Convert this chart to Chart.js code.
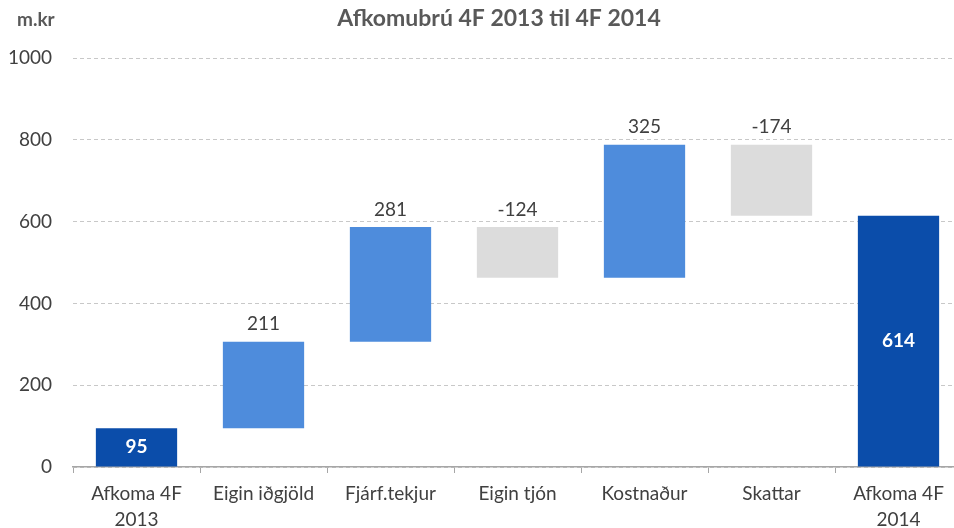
<!DOCTYPE html>
<html>
<head>
<meta charset="utf-8">
<script src="https://cdn.jsdelivr.net/npm/chart.js@4"></script>
<style>
    html, body { margin: 0; padding: 0; background: #ffffff; overflow: hidden; }
    #wrap { width: 962px; height: 528px; position: relative; }
</style>
</head>
<body>
<div id="wrap"><canvas id="afkoma"></canvas></div>
<script>
const categories = [["Afkoma 4F", "2013"], "Eigin iðgjöld", "Fjárf.tekjur", "Eigin tjón", "Kostnaður", "Skattar", ["Afkoma 4F", "2014"]];
const changes = [95, 211, 281, -124, 325, -174, 614];
const isTotal = [true, false, false, false, false, false, true];
const yTicks = [0, 200, 400, 600, 800, 1000];

const colTotal = "#0B4DAA";
const colUp = "#4E8CDC";
const colDown = "#DCDCDC";
const textCol = "#404040";

// floating bars: [start, end]
let running = 0;
const ranges = changes.map((v, i) => {
    if (isTotal[i]) {
        running = v;
        return [0, v];
    }
    const start = running;
    running += v;
    return [start, running];
});
const colors = changes.map((v, i) => isTotal[i] ? colTotal : (v < 0 ? colDown : colUp));

const fontFam = "Lato, 'Open Sans', sans-serif";

const labelPlugin = {
    id: "labels",
    afterDatasetsDraw(chart) {
        const ctx = chart.ctx;
        const meta = chart.getDatasetMeta(0);
        ctx.save();
        ctx.textAlign = "center";
        meta.data.forEach((bar, i) => {
            const v = changes[i];
            if (isTotal[i]) {
                ctx.fillStyle = "#ffffff";
                ctx.font = "bold 19px " + fontFam;
                ctx.textBaseline = "middle";
                ctx.fillText(String(v), bar.x, (bar.y + bar.base) / 2);
            } else {
                ctx.fillStyle = textCol;
                ctx.font = "19px " + fontFam;
                ctx.textBaseline = "bottom";
                const top = Math.min(bar.y, bar.base);
                ctx.fillText(String(v), bar.x, top - 8);
            }
        });
        // titles
        ctx.fillStyle = "#595959";
        ctx.font = "bold 23px " + fontFam;
        ctx.textBaseline = "middle";
        ctx.fillText("Afkomubrú 4F 2013 til 4F 2014", 499, 19);
        ctx.font = "bold 19px " + fontFam;
        ctx.textAlign = "left";
        ctx.fillText("m.kr", 17, 20);
        ctx.restore();
    }
};

new Chart(document.getElementById("afkoma"), {
    type: "bar",
    data: {
        labels: categories,
        datasets: [{
            data: ranges,
            backgroundColor: colors,
            borderWidth: 0,
            barPercentage: 0.64,
            categoryPercentage: 1
        }]
    },
    options: {
        responsive: true,
        maintainAspectRatio: false,
        animation: false,
        layout: { padding: { top: 58, right: 0, left: 0, bottom: 0 } },
        plugins: {
            legend: { display: false },
            tooltip: { enabled: false }
        },
        scales: {
            x: {
                afterFit(axis) { axis.height = 61; },
                grid: { drawOnChartArea: false, drawTicks: true, tickLength: 6, color: "#A6A6A6", offset: true },
                border: { color: "#A6A6A6", width: 1.5 },
                ticks: { color: textCol, font: { size: 19, family: fontFam, lineHeight: 1.38 }, padding: 8, maxRotation: 0 }
            },
            y: {
                min: 0,
                max: 1000,
                afterBuildTicks(axis) { axis.ticks = yTicks.map(v => ({ value: v })); },
                afterFit(axis) { axis.width = 73; },
                grid: { color: "#C8C8C8", drawTicks: false },
                border: { display: false, dash: [4, 3] },
                ticks: {
                    color: textCol,
                    font: { size: 19, family: fontFam },
                    padding: 21,
                    callback: v => String(v)
                }
            }
        }
    },
    plugins: [labelPlugin]
});
</script>
</body>
</html>
